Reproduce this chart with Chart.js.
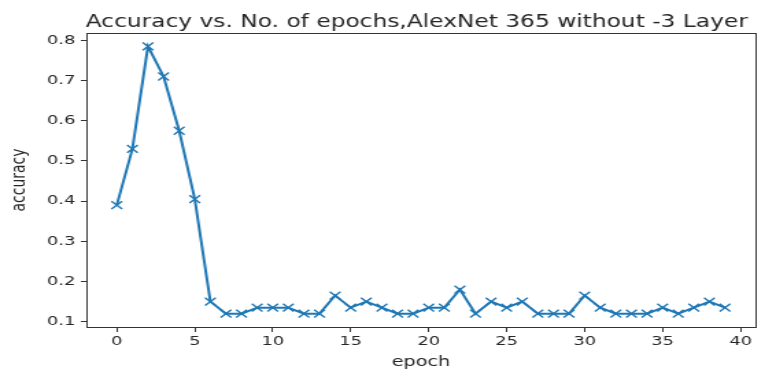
<!DOCTYPE html>
<html>
<head>
<meta charset="utf-8">
<script src="https://cdn.jsdelivr.net/npm/chart.js@4"></script>
<style>
  html, body { margin: 0; padding: 0; background: #fff; overflow: hidden; }
  /* the reference image is a horizontally stretched figure, so stretch ours the same way */
  #wrap { width: 558px; height: 371px; transform: scaleX(1.371); transform-origin: 0 0; }
</style>
</head>
<body>
<div id="wrap"><canvas id="myChart" width="558" height="371"></canvas></div>
<script>
// Data
const epochs = [0,1,2,3,4,5,6,7,8,9,10,11,12,13,14,15,16,17,18,19,
                20,21,22,23,24,25,26,27,28,29,30,31,32,33,34,35,36,37,38,39];
const accuracy = [0.39,0.53,0.785,0.71,0.575,0.405,0.15,0.12,0.12,0.135,
                  0.135,0.135,0.12,0.12,0.165,0.135,0.15,0.135,0.12,0.12,
                  0.135,0.135,0.18,0.12,0.15,0.135,0.15,0.12,0.12,0.12,
                  0.165,0.135,0.12,0.12,0.12,0.135,0.12,0.135,0.15,0.135];
const xTicks = [0,5,10,15,20,25,30,35,40];
const yTicks = [0.1,0.2,0.3,0.4,0.5,0.6,0.7,0.8];

const titleText = "Accuracy vs. No. of epochs,AlexNet 365 without -3 Layer";
const fontFamily = "'DejaVu Sans', sans-serif";
const textColor = "#262626";

// frame around the plot area plus the title
const framePlugin = {
  id: "frame",
  afterDraw(chart) {
    const { ctx, chartArea } = chart;
    ctx.save();
    ctx.strokeStyle = "#333";
    ctx.lineWidth = 1;
    ctx.strokeRect(chartArea.left + 0.5, chartArea.top + 0.5,
                   chartArea.right - chartArea.left, chartArea.bottom - chartArea.top);
    ctx.fillStyle = textColor;
    ctx.font = "17px " + fontFamily;
    ctx.textAlign = "center";
    ctx.textBaseline = "alphabetic";
    ctx.fillText(titleText, (chartArea.left + chartArea.right) / 2 - 3, chartArea.top - 6);
    ctx.restore();
  }
};

const ctx = document.getElementById("myChart").getContext("2d");
const myChart = new Chart(ctx, {
  type: "line",
  data: {
    datasets: [{
      data: epochs.map((e, i) => ({ x: e, y: accuracy[i] })),
      borderColor: "#1f77b4",
      backgroundColor: "#1f77b4",
      borderWidth: 2,
      pointStyle: "crossRot",
      pointRadius: 5.5,
      pointBorderWidth: 1.4,
      pointHoverRadius: 5.5,
      tension: 0,
      fill: false
    }]
  },
  options: {
    responsive: false,
    animation: false,
    devicePixelRatio: 1,
    layout: { padding: { top: 33, right: 7, left: 0, bottom: 0 } },
    plugins: {
      legend: { display: false },
      tooltip: { enabled: false },
      title: { display: false }
    },
    scales: {
      x: {
        type: "linear",
        min: -1.95,
        max: 40.95,
        afterBuildTicks: (scale) => { scale.ticks = xTicks.map(v => ({ value: v })); },
        afterFit: (scale) => { scale.height = 44; },
        grid: { drawOnChartArea: false, tickLength: 5, color: "#333", tickColor: "#333" },
        border: { display: false },
        ticks: {
          color: textColor,
          font: { family: fontFamily, size: 13 },
          padding: 2,
          maxRotation: 0,
          callback: (v) => String(v)
        },
        title: {
          display: true,
          text: "epoch",
          color: textColor,
          font: { family: fontFamily, size: 14 },
          padding: { top: 0, bottom: 0 }
        }
      },
      y: {
        type: "linear",
        min: 0.0868,
        max: 0.8182,
        afterBuildTicks: (scale) => { scale.ticks = yTicks.map(v => ({ value: v })); },
        afterFit: (scale) => { scale.width = 63; },
        grid: { drawOnChartArea: false, tickLength: 4, color: "#333", tickColor: "#333" },
        border: { display: false },
        ticks: {
          color: textColor,
          font: { family: fontFamily, size: 13 },
          padding: 4,
          callback: (v) => v.toFixed(1)
        },
        title: {
          display: true,
          text: "accuracy",
          color: textColor,
          font: { family: fontFamily, size: 14 },
          padding: { top: 6, bottom: 0 }
        }
      }
    }
  },
  plugins: [framePlugin]
});
</script>
</body>
</html>
